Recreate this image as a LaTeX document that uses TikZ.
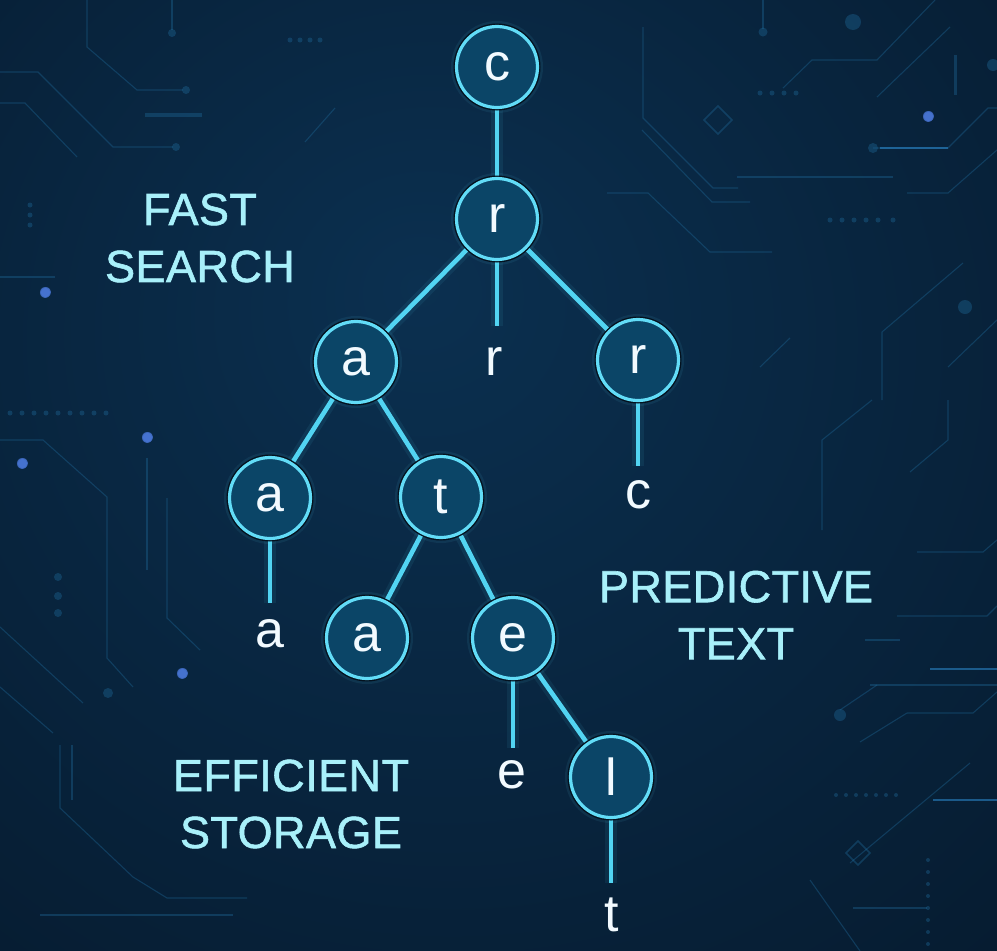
\documentclass[tikz,border=0pt]{standalone}
\usepackage{fontspec}
\setmainfont{Liberation Sans}
\newfontfamily\capfont[LetterSpace=1.0,FakeBold=1.3]{Liberation Sans}
\usetikzlibrary{fadings}

\definecolor{bgdark}{HTML}{020C18}
\definecolor{bgmid}{HTML}{0B3050}
\definecolor{wirecol}{HTML}{1F6A9A}
\definecolor{wirebright}{HTML}{2C8BD0}
\definecolor{edgecyan}{HTML}{52D4F2}
\definecolor{ringcyan}{HTML}{62DCF7}
\definecolor{ringdark}{HTML}{03111E}
\definecolor{nodefill}{HTML}{0B4567}
\definecolor{labelcyan}{HTML}{A8F0FA}
\definecolor{captionedge}{HTML}{04121F}
\definecolor{letterwhite}{HTML}{F2FAFF}
\definecolor{sparkblue}{HTML}{5A8CFF}

\pgfdeclareradialshading{backglow}{\pgfpoint{-4bp}{10bp}}{%
  color(0bp)=(bgmid); color(25bp)=(bgmid!65!bgdark); color(72bp)=(bgdark)}

\pgfdeclarelayer{back}
\pgfdeclarelayer{links}
\pgfsetlayers{back,links,main}

\tikzset{
  trienode/.style={circle, minimum size=81pt, inner sep=0pt,
    preaction={draw=ringcyan, line width=11pt, opacity=0.08},
    preaction={draw=ringdark, line width=6pt},
    draw=ringcyan, line width=3.2pt, fill=nodefill,
    text=letterwhite, font=\fontsize{52}{58}\selectfont},
  leaflabel/.style={text=letterwhite, inner sep=0pt,
    font=\fontsize{52}{58}\selectfont},
  link/.style={draw=edgecyan, line width=4.6pt},
  linkglow/.style={draw=edgecyan, line width=12pt, opacity=0.08},
  caption/.style={text=labelcyan, align=center, inner sep=0pt,
    font=\capfont\fontsize{45}{57}\selectfont},
  wire/.style={wirecol, line width=1.1pt, opacity=0.38},
  brightwire/.style={wirebright, line width=1.3pt, opacity=0.55},
  spark/.style={sparkblue, opacity=0.75, path fading=circle with fuzzy edge 20 percent},
}

\begin{document}
\begin{tikzpicture}[x=1pt,y=-1pt]
\useasboundingbox (0,0) rectangle (997,951);

\begin{pgfonlayer}{back}
  % dark navy backdrop with a soft central glow
  \shade[shading=backglow] (0,0) rectangle (997,951);

  % circuit traces, upper left
  \begin{scope}[wire]
    \draw (87,0) -- (87,47) -- (137,90) -- (183,90);
    \fill (186,90) circle (4);
    \draw (172,0) -- (172,30);
    \fill (172,33) circle (4);
    \draw (0,72) -- (38,72) -- (113,147) -- (173,147);
    \fill (176,147) circle (4);
    \draw (0,103) -- (25,103) -- (77,157);
    \draw[line width=4pt] (145,115) -- (202,115);
    \draw (305,142) -- (335,108);
    \draw (0,277) -- (55,277);
    \foreach \p in {290,300,310,320} \fill (\p,40) circle (2.5);
    \foreach \q in {205,215,225} \fill (30,\q) circle (2.5);
  \end{scope}

  % circuit traces, upper right
  \begin{scope}[wire]
    \draw (643,27) -- (643,118) -- (713,188) -- (738,188);
    \draw (642,130) -- (712,202) -- (750,202);
    \draw (763,0) -- (763,29);
    \fill (763,32) circle (4.5);
    \fill (853,22) circle (8);
    \fill (993,65) circle (6);
    \draw (783,88) -- (812,60) -- (877,60) -- (935,0);
    \draw (877,97) -- (950,27);
    \draw[line width=3pt] (955,55) -- (955,95);
    \draw[line width=1.6pt] (718,106) -- (732,120) -- (718,134) -- (704,120) -- cycle;
    \fill (873,148) circle (5);
    \draw (873,148) -- (948,148) -- (988,108) -- (997,108);
    \draw (737,177) -- (893,177);
    \draw (607,193) -- (648,193) -- (710,252) -- (772,252);
    \draw (907,193) -- (948,193) -- (997,150);
    \draw (882,400) -- (882,332) -- (963,263);
    \fill (965,307) circle (7);
    \draw (760,367) -- (790,338);
    \draw (948,367) -- (997,320);
    \foreach \p in {760,772,784,796} \fill (\p,93) circle (2.5);
    \foreach \p in {830,842,854,866,878,893} \fill (\p,220) circle (2.5);
  \end{scope}

  % circuit traces, lower left
  \begin{scope}[wire]
    \draw (0,440) -- (43,440) -- (107,497) -- (107,658) -- (133,687);
    \draw (147,458) -- (147,570);
    \draw (167,498) -- (167,618) -- (200,650);
    \draw (0,627) -- (83,703);
    \draw (0,687) -- (53,733);
    \draw (60,745) -- (60,808) -- (133,877) -- (167,898) -- (247,898);
    \draw (72,745) -- (72,800);
    \draw (40,915) -- (233,915);
    \foreach \q in {577,596,613} \fill (58,\q) circle (4);
    \foreach \p in {10,22,34,46,58,70,82,94,106} \fill (\p,413) circle (2.5);
    \fill (108,693) circle (5);
  \end{scope}

  % circuit traces, lower right
  \begin{scope}[wire]
    \draw (822,530) -- (822,440) -- (872,400);
    \draw (948,400) -- (948,440) -- (910,472);
    \draw (917,552) -- (983,552) -- (997,540);
    \draw (897,616) -- (987,616) -- (997,606);
    \draw (865,640) -- (900,640);
    \draw (870,685) -- (997,685);
    \draw (840,710) -- (877,685);
    \draw (907,713) -- (973,713) -- (997,692);
    \fill (840,715) circle (6);
    \draw (860,742) -- (907,713);
    \draw[line width=1.6pt] (858,841) -- (870,853) -- (858,865) -- (846,853) -- cycle;
    \draw (850,863) -- (970,763);
    \draw (810,880) -- (860,951);
    \draw (853,908) -- (927,908);
    \foreach \q in {860,872,884,896,908,920,932,944} \fill (928,\q) circle (2);
    \foreach \p in {836,846,856,866,876,886,896} \fill (\p,795) circle (2);
  \end{scope}
  \begin{scope}[brightwire]
    \draw (930,669) -- (997,669);
    \draw (933,800) -- (997,800);
    \draw (880,148) -- (948,148);
  \end{scope}

  % small glowing sparks
  \fill[spark] (928,116) circle (6);
  \fill[spark] (147,437) circle (6);
  \fill[spark] (22,463) circle (6);
  \fill[spark] (182,673) circle (6);
  \fill[spark] (45,292) circle (6);
\end{pgfonlayer}

% trie nodes
\node[trienode] (c)  at (497,67)  {c};
\node[trienode] (r)  at (497,219) {r};
\node[trienode] (a2) at (356,362) {a};
\node[trienode] (rr) at (638,360) {r};
\node[trienode] (a3) at (270,498) {a};
\node[trienode] (t)  at (441,497) {t};
\node[trienode] (a4) at (367,638) {a};
\node[trienode] (e)  at (513,638) {e};
\node[trienode] (l)  at (611,777) {l};

% end-of-word letters
\node[leaflabel] (rlf) at (494,362) {r};
\node[leaflabel] (clf) at (638,495) {c};
\node[leaflabel] (alf) at (270,634) {a};
\node[leaflabel] (elf) at (512,775) {e};
\node[leaflabel] (tlf) at (612,915) {t};

% stub ends above the letters
\coordinate (rstub) at (497,326);
\coordinate (cstub) at (638,466);
\coordinate (astub) at (270,603);
\coordinate (estub) at (513,748);
\coordinate (tstub) at (611,883);

\begin{pgfonlayer}{links}
  \foreach \u/\v in {c/r, r/a2, r/rr, a2/a3, a2/t, t/a4, t/e, e/l,
                     r/rstub, rr/cstub, a3/astub, e/estub, l/tstub} {
    \draw[linkglow] (\u) -- (\v);
    \draw[link] (\u) -- (\v);
  }
\end{pgfonlayer}

% captions
\node[caption] (fast) at (200,238) {FAST\\SEARCH};
\node[caption] (pred) at (736,615) {PREDICTIVE\\TEXT};
\node[caption] (effi) at (291,804) {EFFICIENT\\STORAGE};
\end{tikzpicture}
\end{document}
